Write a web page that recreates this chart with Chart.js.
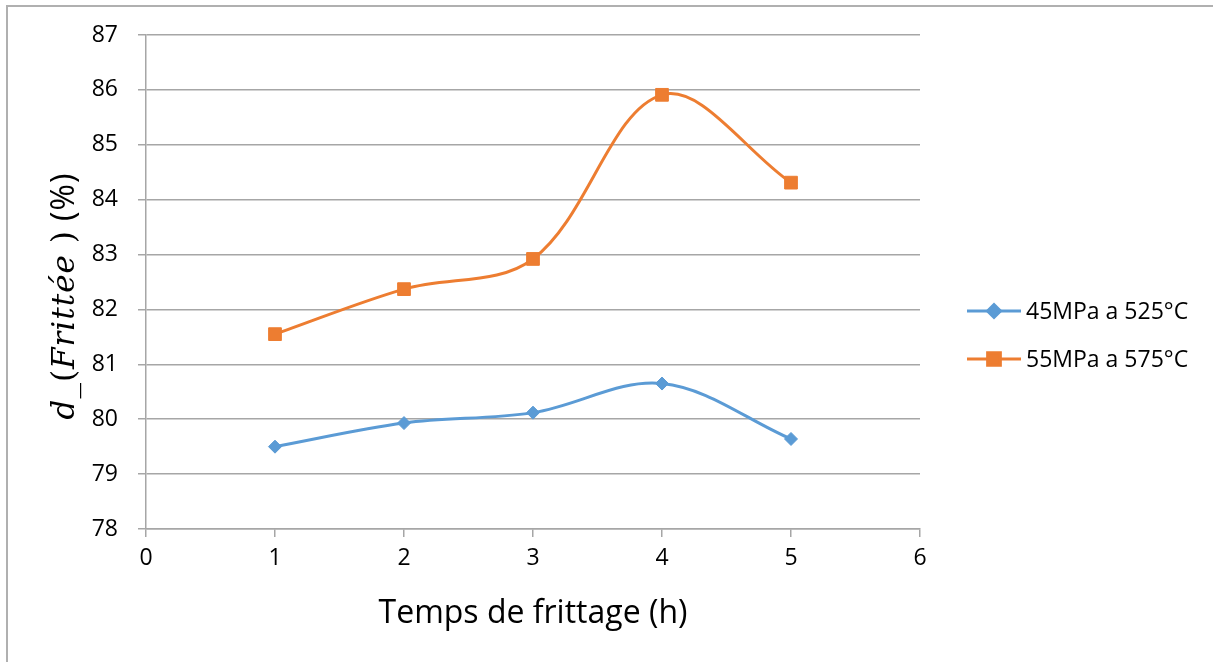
<!DOCTYPE html>
<html>
<head>
<meta charset="utf-8">
<title>Densité frittée</title>
<script src="https://cdn.jsdelivr.net/npm/chart.js@4.4.1/dist/chart.umd.min.js"></script>
<style>
  html, body { margin: 0; padding: 0; background: #fff; }
  #wrap { width: 1213px; height: 662px; position: relative; }
</style>
</head>
<body>
<div id="wrap"><canvas id="canvas" width="1213" height="662"></canvas></div>
<script>
// temps de frittage (h)
const hours = [1, 2, 3, 4, 5];
const series45 = [79.50, 79.93, 80.12, 80.65, 79.64];
const series55 = [81.55, 82.37, 82.92, 85.91, 84.31];
const seriesNames = ["45MPa a 525°C", "55MPa a 575°C"];
const seriesColors = ["#5B9BD5", "#ED7D31"];
const xTitle = "Temps de frittage (h)";
// y title pieces : [text, style]
const yTitleParts = [
  ["d", "math"],
  ["_(", "serif"],
  ["Frittée", "math"],
  [" )", "serif"],
  [" (%)", "sans"]
];

const gridColor = "#a6a6a6";
const tickFont = { family: "'Open Sans'", size: 23 };

function toPoints(values) {
  return hours.map((h, i) => ({ x: h, y: values[i] }));
}

// frame around the picture (only top & left visible)
const framePlugin = {
  id: "frame",
  beforeDraw(chart) {
    const ctx = chart.ctx;
    ctx.save();
    ctx.fillStyle = "#fff";
    ctx.fillRect(0, 0, chart.width, chart.height);
    ctx.strokeStyle = "#b0b0b0";
    ctx.lineWidth = 2;
    ctx.beginPath();
    ctx.moveTo(7, chart.height);
    ctx.lineTo(7, 6);
    ctx.lineTo(chart.width, 6);
    ctx.stroke();
    ctx.restore();
  }
};

// mixed font y title
const yTitlePlugin = {
  id: "yTitle",
  afterDraw(chart) {
    const ctx = chart.ctx;
    const fonts = {
      math: "italic 31px 'DejaVu Serif'",
      serif: "31px 'DejaVu Serif'",
      sans: "32px 'Open Sans'"
    };
    ctx.save();
    ctx.letterSpacing = "1px";
    let total = 0;
    yTitleParts.forEach(([t, s]) => {
      ctx.font = fonts[s];
      total += ctx.measureText(t).width;
    });
    ctx.translate(74, 296);
    ctx.rotate(-Math.PI / 2);
    ctx.fillStyle = "#000";
    ctx.textBaseline = "alphabetic";
    ctx.textAlign = "left";
    let x = -total / 2;
    yTitleParts.forEach(([t, s]) => {
      ctx.font = fonts[s];
      ctx.fillText(t, x, 0);
      x += ctx.measureText(t).width;
    });
    ctx.restore();
  }
};

// legend drawn as line + marker like the original
const legendPlugin = {
  id: "sideLegend",
  afterDraw(chart) {
    const ctx = chart.ctx;
    const rows = [311, 359];
    ctx.save();
    chart.data.datasets.forEach((ds, i) => {
      const y = rows[i];
      ctx.strokeStyle = ds.borderColor;
      ctx.lineWidth = 3;
      ctx.beginPath();
      ctx.moveTo(967, y);
      ctx.lineTo(1021, y);
      ctx.stroke();
      ctx.fillStyle = ds.pointBackgroundColor;
      ctx.strokeStyle = ds.pointBorderColor;
      Chart.helpers.drawPoint(ctx, {
        pointStyle: ds.pointStyle,
        radius: ds.pointRadius,
        rotation: 0,
        borderWidth: 1
      }, 994, y);
      ctx.fillStyle = "#000";
      ctx.font = "23px 'Open Sans'";
      ctx.textBaseline = "middle";
      ctx.fillText(ds.label, 1026, y + 1);
    });
    ctx.restore();
  }
};

const ctx = document.getElementById("canvas").getContext("2d");
const chart = new Chart(ctx, {
  type: "line",
  data: {
    datasets: [
      {
        label: seriesNames[0],
        data: toPoints(series45),
        borderColor: seriesColors[0],
        backgroundColor: seriesColors[0],
        pointBackgroundColor: seriesColors[0],
        pointBorderColor: seriesColors[0],
        pointStyle: "rectRot",
        pointRadius: 6.5,
        pointBorderWidth: 1,
        borderWidth: 3,
        tension: 0.35,
        fill: false
      },
      {
        label: seriesNames[1],
        data: toPoints(series55),
        borderColor: seriesColors[1],
        backgroundColor: seriesColors[1],
        pointBackgroundColor: seriesColors[1],
        pointBorderColor: seriesColors[1],
        pointStyle: "rect",
        pointRadius: 9,
        pointBorderWidth: 1,
        borderWidth: 3,
        tension: 0.35,
        fill: false
      }
    ]
  },
  options: {
    responsive: false,
    animation: false,
    layout: { padding: { top: 35, right: 293, bottom: 0, left: 0 } },
    plugins: {
      legend: { display: false },
      tooltip: { enabled: false }
    },
    scales: {
      x: {
        type: "linear",
        min: 0,
        max: 6,
        ticks: { stepSize: 1, color: "#000", font: tickFont, padding: 8 },
        grid: {
          drawOnChartArea: false,
          drawTicks: true,
          tickLength: 8,
          color: gridColor,
          lineWidth: 1.5
        },
        border: { display: true, color: gridColor, width: 1.5 },
        title: {
          display: true,
          text: xTitle,
          color: "#000",
          font: { family: "'Open Sans'", size: 32 },
          padding: { top: 0, bottom: 29 }
        },
        afterFit(scale) { scale.height = 133; }
      },
      y: {
        min: 78,
        max: 87,
        ticks: { stepSize: 1, color: "#000", font: tickFont, padding: 20 },
        grid: {
          color: gridColor,
          lineWidth: 1.5,
          tickLength: 8
        },
        border: { display: true, color: gridColor, width: 1.5 },
        afterFit(scale) { scale.width = 146; }
      }
    }
  },
  plugins: [framePlugin, yTitlePlugin, legendPlugin]
});
</script>
</body>
</html>
